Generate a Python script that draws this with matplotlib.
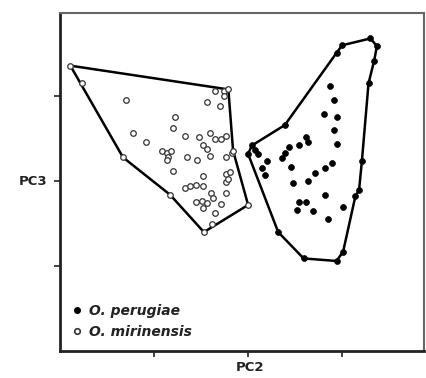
import matplotlib
matplotlib.use("Agg")
import matplotlib.pyplot as plt
from matplotlib.lines import Line2D

plt.rcParams['font.family'] = ['DejaVu Sans']

# O. mirinensis (open circles)
mir_x = [0.23, 0.70, 1.65, 1.74, 1.74, 1.56, 1.70, 1.22, 1.20, 0.78, 0.91, 1.33, 1.48, 1.59,
         1.65, 1.71, 1.77, 1.52, 1.56, 1.08, 1.14, 1.18, 1.15, 1.14, 1.35, 1.46, 1.60, 1.76,
         1.83, 0.67, 1.20, 1.52, 1.77, 1.81, 1.76, 1.79, 1.33, 1.38, 1.45, 1.52, 1.61, 1.77,
         1.17, 1.45, 1.51, 1.56, 1.63, 1.71, 1.52, 1.65, 1.62, 1.53, 2.00, 1.84, 1.79, 0.11]
mir_y = [3.16, 2.96, 3.06, 3.06, 3.00, 2.93, 2.88, 2.75, 2.63, 2.57, 2.46, 2.53, 2.52, 2.57,
         2.50, 2.50, 2.53, 2.42, 2.38, 2.36, 2.33, 2.35, 2.29, 2.25, 2.29, 2.25, 2.30, 2.29,
         2.33, 2.28, 2.12, 2.06, 2.08, 2.11, 1.99, 2.03, 1.92, 1.94, 1.95, 1.94, 1.86, 1.86,
         1.84, 1.76, 1.77, 1.74, 1.80, 1.73, 1.68, 1.62, 1.50, 1.40, 1.72, 2.36, 3.08, 3.36]
mir_hull = [55, 54, 53, 52, 51, 42, 29, 55]

# O. perugiae (filled circles)
per_x = [3.00, 2.94, 3.30, 3.37, 3.34, 3.28, 2.87, 2.91, 2.81, 2.94, 2.91, 2.95, 2.39, 2.62,
         2.64, 2.54, 2.43, 2.39, 2.36, 2.04, 2.07, 2.00, 2.11, 2.20, 2.15, 2.18, 2.46, 2.89,
         2.82, 2.71, 2.64, 2.48, 3.21, 3.18, 3.14, 2.82, 3.01, 2.54, 2.62, 2.52, 2.69, 2.85,
         2.32, 3.01, 2.94, 2.59]
per_y = [3.60, 3.51, 3.68, 3.59, 3.42, 3.15, 3.12, 2.95, 2.79, 2.75, 2.60, 2.44, 2.66, 2.52,
         2.46, 2.42, 2.40, 2.33, 2.27, 2.42, 2.37, 2.32, 2.32, 2.24, 2.16, 2.07, 2.17, 2.21,
         2.15, 2.10, 2.00, 1.98, 2.24, 1.90, 1.82, 1.84, 1.70, 1.76, 1.76, 1.66, 1.65, 1.55,
         1.40, 1.17, 1.06, 1.09]
per_hull = [2, 3, 4, 5, 32, 33, 34, 43, 44, 45, 42, 21, 19, 12, 1, 0, 2]

x_ticks = [1, 2, 3]
y_ticks = [1, 2, 3]
species = ["O. perugiae", "O. mirinensis"]

fig = plt.figure(figsize=(4.27, 3.78), dpi=100)
ax = fig.add_axes([60/427, 27/378, 364/427, 338/378])

ax.plot([mir_x[i] for i in mir_hull], [mir_y[i] for i in mir_hull],
        color='black', lw=1.8, solid_joinstyle='round', zorder=2)
ax.plot([per_x[i] for i in per_hull], [per_y[i] for i in per_hull],
        color='black', lw=1.8, solid_joinstyle='round', zorder=2)

ax.scatter(mir_x, mir_y, s=16, facecolor='white', edgecolor='#333333', linewidths=0.9, zorder=3)
ax.scatter(per_x, per_y, s=18, facecolor='black', edgecolor='black', linewidths=0.5, zorder=3)

ax.set_xlim(0, 3.87)
ax.set_ylim(0, 3.98)
ax.set_xticks(x_ticks)
ax.set_yticks(y_ticks)
ax.set_xticklabels([])
ax.set_yticklabels([])
ax.tick_params(direction='out', length=4, width=1.2, color='#222222')

for s in ['left', 'bottom']:
    ax.spines[s].set_linewidth(2.0)
    ax.spines[s].set_color('#222222')
for s in ['top', 'right']:
    ax.spines[s].set_linewidth(1.5)
    ax.spines[s].set_color('#666666')

ax.set_ylabel('PC3', rotation=0, fontsize=9.5, fontweight='bold', ha='right', va='center',
              color='#222222')
ax.yaxis.set_label_coords(-0.035, 2/3.98)
ax.set_xlabel('PC2', fontsize=9.5, fontweight='bold', va='center', color='#222222')
ax.xaxis.set_label_coords(190/364, -0.05)

handles = [
    Line2D([], [], marker='o', linestyle='none', markersize=4, markerfacecolor='black',
           markeredgecolor='black'),
    Line2D([], [], marker='o', linestyle='none', markersize=4, markerfacecolor='white',
           markeredgecolor='#333333', markeredgewidth=1.2),
]
leg = ax.legend(handles, species, loc='lower left', bbox_to_anchor=(0.0, 0.0),
                frameon=False, handlelength=0.7, handletextpad=0.5, labelspacing=0.5,
                borderaxespad=0.5,
                prop={'family': 'DejaVu Sans', 'size': 10, 'weight': 'bold', 'style': 'italic'})
for t in leg.get_texts():
    t.set_color('#222222')

fig.savefig('out.png', dpi=100)
